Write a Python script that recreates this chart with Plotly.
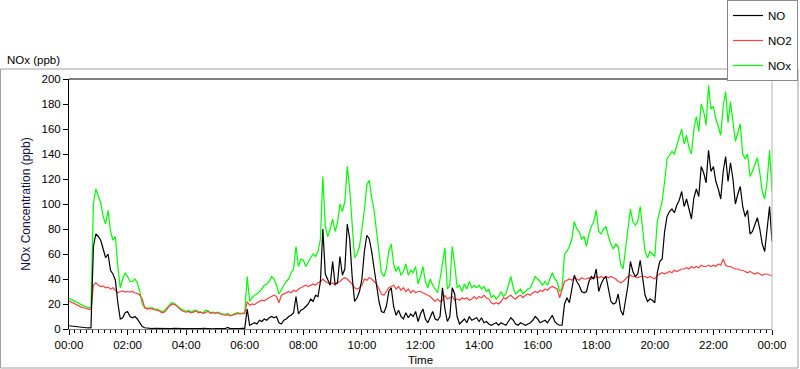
import pandas as pd
import plotly.graph_objects as go

# 5-minute samples, 00:00 .. 24:00 (one row per hour)
NO = [
    2.6, 2.3, 2.1, 1.8, 1.5, 1.3, 1.1, 1.0, 0.9, 1.0, 66, 76,
    74, 71, 64, 57, 60, 47, 44, 39, 21, 8, 9, 13,
    14, 10, 9, 10, 8, 5, 2, 1, 0.6, 0.5, 0.4, 0.5,
    0.4, 0.3, 0.5, 0.3, 0.4, 0.3, 0.4, 0.6, 0.4, 0.3, 0.4, 0.3,
    0.4, 0.3, 0.5, 0.3, 0.2, 0.4, 0.3, 0.5, 0.3, 0.4, 0.3, 0.2,
    0.3, 0.4, 0.6, 0.3, 0.4, 1.2, 0.3, 0.4, 0.3, 0.5, 0.4, 0.6,
    0.5, 16, 3, 4, 5, 4, 7, 6, 8, 7, 9, 10,
    9, 10, 5, 4, 7, 8, 10, 11, 13, 26, 12, 15,
    16, 18, 20, 24, 22, 27, 26, 38, 80, 44, 40, 35,
    54, 36, 37, 58, 43, 48, 84, 72, 42, 22, 25, 30,
    40, 62, 75, 72, 62, 50, 35, 22, 14, 13, 18, 30,
    33, 18, 11, 15, 10, 8, 13, 9, 12, 10, 14, 6,
    12, 16, 8, 5, 10, 14, 8, 7, 10, 33, 16, 6,
    10, 33, 28, 10, 4, 6, 8, 5, 10, 7, 8, 9,
    6, 9, 5, 6, 4, 3, 4, 5, 3, 5, 4, 3,
    6, 9, 7, 4, 3, 5, 4, 3, 4, 5, 7, 10,
    8, 5, 6, 7, 5, 8, 11, 6, 4, 3, 3, 20,
    25, 21, 33, 43, 38, 35, 30, 29, 30, 38, 42, 40,
    48, 30, 36, 40, 42, 33, 22, 20, 21, 28, 15, 11,
    25, 35, 54, 46, 42, 44, 55, 40, 27, 22, 24, 23,
    21, 45, 54, 56, 78, 90, 94, 96, 93, 99, 103, 110,
    98, 104, 96, 88, 105, 112, 106, 130, 125, 117, 143, 126,
    130, 118, 112, 104, 126, 138, 118, 133, 120, 100, 108, 114,
    98, 90, 95, 76, 78, 84, 89, 80, 68, 62, 78, 98,
    70,
]

NO2 = [
    22.5, 21.5, 20.5, 19, 18, 17.5, 17, 16.5, 16, 15.5, 35, 37,
    35, 34, 34.5, 33, 33.5, 32, 33, 31, 29, 30, 30.5, 29.5,
    30, 29.5, 30, 29, 28.5, 27, 24, 17, 16, 16.5, 16, 15.5,
    15.5, 14.5, 13, 13.5, 15.5, 18, 19.5, 20, 18.5, 16.5, 15, 14,
    13.5, 14, 13, 13.5, 14.5, 13, 13.5, 12.5, 13, 14, 12.5, 13,
    12.5, 13, 12, 11.5, 11, 11.5, 10.5, 11, 12, 12.5, 12, 12.5,
    12.5, 22, 19, 20, 19.5, 21, 22, 23, 22.5, 24, 25, 26,
    27, 26, 21, 27, 28, 29, 30, 29, 31, 30, 32, 33,
    34, 35, 34, 35, 36, 35, 37, 38, 40, 38, 37, 36,
    37, 35, 37, 38, 40, 41, 40, 38, 36, 33, 32, 33,
    35, 40, 39, 41, 40, 38, 36, 32, 28, 27, 30, 33,
    34, 35, 32, 34, 31, 33, 30, 32, 29, 31, 29, 30,
    30, 29, 28, 27, 26, 24, 22, 24, 22, 23, 27, 24,
    25, 26, 23, 24, 23, 25, 24, 25, 23, 24, 26, 24,
    26, 25, 27, 25, 24, 21, 20, 21, 20, 22, 25, 24,
    26, 27, 25, 24, 26, 27, 25, 27, 28, 27, 29, 30,
    29, 31, 30, 32, 31, 33, 34, 33, 32, 25, 31, 38,
    39, 40, 39, 41, 40, 39, 41, 40, 40, 41, 40, 41,
    42, 41, 42, 41, 42, 41, 42, 41, 40, 38, 37, 38,
    40, 42, 43, 42, 42, 41, 42, 42, 42, 41, 42, 41,
    40, 43, 44, 45, 44, 45, 46, 45, 47, 46, 47, 48,
    48, 49, 48, 50, 49, 50, 49, 51, 50, 50, 51, 50,
    51, 50, 52, 51, 56, 51, 50, 50, 49, 48, 48, 47,
    47, 46, 45, 46, 45, 44, 45, 44, 43, 44, 44, 43,
    43,
]

NOX = [
    24.5, 23.5, 22.5, 21, 20, 19, 18.5, 18, 17, 17, 100, 112,
    107, 101, 90, 84, 95, 78, 71, 74, 50, 33, 40, 45,
    42, 38, 38, 40, 37, 30, 20, 17, 17, 16.5, 17, 16,
    16, 15, 14, 14.5, 16.5, 19, 21, 20.5, 19, 17, 16, 15,
    14, 15, 13.5, 14.5, 15, 14, 13.5, 13, 15, 14.5, 13, 13.5,
    13, 13.5, 12.5, 12, 11.5, 12.5, 11, 11.5, 12.5, 13, 12.5, 13,
    13, 42, 22, 25, 27, 28, 30, 32, 35, 36, 38, 42,
    40, 35, 28, 32, 35, 38, 40, 45, 48, 66, 50, 56,
    55, 50, 54, 57, 60, 58, 62, 72, 122, 82, 74, 80,
    88, 78, 85, 100, 94, 102, 130, 112, 84, 57, 60, 66,
    80, 95, 115, 119, 105, 95, 78, 60, 45, 42, 48, 62,
    68, 52, 46, 50, 43, 46, 52, 43, 47, 45, 50, 36,
    42, 50, 38, 33, 40, 35, 32, 29, 40, 54, 65, 32,
    35, 66, 52, 33, 35, 30, 36, 32, 38, 33, 35, 33,
    35, 32, 34, 30, 32, 25, 27, 24, 26, 30, 26, 28,
    35, 42, 33, 28, 30, 32, 28, 30, 32, 33, 38, 42,
    40, 38, 35, 38, 35, 40, 45, 40, 38, 30, 33, 60,
    62, 66, 72, 86, 80, 78, 72, 74, 66, 76, 82, 86,
    95, 78, 76, 80, 82, 74, 68, 64, 68, 66, 52, 48,
    62, 80, 96, 86, 83, 86, 98, 80, 62, 57, 62, 60,
    58, 86, 95, 102, 118, 136, 139, 142, 140, 147, 153, 160,
    148, 155, 145, 140, 160, 170, 158, 180, 174, 163, 195, 176,
    178, 168, 162, 155, 178, 190, 165, 182, 166, 150, 157, 164,
    140, 136, 140, 122, 126, 132, 137, 125, 110, 104, 118, 143,
    110,
]

TIME = pd.date_range("2000-01-01 00:00", periods=len(NO), freq="5min")

# layout geometry (pixels) -> paper coordinates
W, H = 800, 369
L, R, T, B = 69, 772, 79, 329
def px(x):
    return (x - L) / (R - L)
def py(y):
    return (B - y) / (B - T)

FONT = "Liberation Sans, Arial, sans-serif"

fig = go.Figure()
fig.add_trace(go.Scatter(x=TIME, y=NOX, name="NOx", mode="lines",
                         legendgroup="c", legendrank=3,
                         line=dict(color="#00ff00", width=1.2)))
fig.add_trace(go.Scatter(x=TIME, y=NO2, name="NO2", mode="lines",
                         legendgroup="b", legendrank=2,
                         line=dict(color="#ff4040", width=1.2)))
fig.add_trace(go.Scatter(x=TIME, y=NO, name="NO", mode="lines",
                         legendgroup="a", legendrank=1,
                         line=dict(color="#000000", width=1.2)))

fig.update_layout(
    width=W, height=H,
    margin=dict(l=L, r=W - R, t=T, b=H - B, pad=0, autoexpand=False),
    paper_bgcolor="white", plot_bgcolor="white",
    font=dict(family=FONT, size=11.5, color="#000000"),
    showlegend=True,
    legend=dict(
        x=px(798), y=py(0), xanchor="right", yanchor="top",
        traceorder="grouped",
        bgcolor="white", bordercolor="#8a8a8a", borderwidth=1,
        font=dict(size=11.5), itemwidth=30, tracegroupgap=6,
    ),
    xaxis=dict(
        range=["2000-01-01 00:00", "2000-01-02 00:00"],
        tickformat="%H:%M", dtick=7200000, tick0="2000-01-01 00:00",
        ticks="outside", ticklen=5, tickcolor="#000000",
        showgrid=False, zeroline=False,
        showline=True, linecolor="#7a7a7a", linewidth=1,
        minor=dict(dtick=720000, ticks="outside", ticklen=3,
                   tickcolor="#000000", showgrid=False),
        title=dict(text="Time", standoff=6, font=dict(size=11.5)),
        tickfont=dict(size=11.5),
    ),
    yaxis=dict(
        range=[0, 200], dtick=20, ticks="outside", ticklen=5,
        tickcolor="#000000", showgrid=False, zeroline=False,
        showline=True, linecolor="#000000", linewidth=1,
        title=dict(text="NOx Concentration (ppb)", standoff=8,
                   font=dict(size=12, color="#111144")),
        tickfont=dict(size=11.5),
    ),
    shapes=[
        # outer panel frame
        dict(type="rect", xref="paper", yref="paper",
             x0=px(0.5), x1=px(798), y0=py(368), y1=py(69),
             line=dict(color="#a0a0a0", width=1), layer="below"),
        # plot area top edge (dark) and right edge (light)
        dict(type="line", xref="paper", yref="paper",
             x0=0, x1=1, y0=1, y1=1, line=dict(color="#000000", width=1)),
        dict(type="line", xref="paper", yref="paper",
             x0=1, x1=1, y0=0, y1=1, line=dict(color="#b4b4b4", width=1)),
    ],
    annotations=[
        dict(text="NOx (ppb)", xref="paper", yref="paper",
             x=px(5), y=py(60), xanchor="left", yanchor="middle",
             showarrow=False, font=dict(size=11.5, color="#000000")),
    ],
)

fig.write_html(
    "out.html",
    config={"displayModeBar": False},
    post_script="document.body.style.margin='0px';document.body.style.overflow='hidden';",
)
